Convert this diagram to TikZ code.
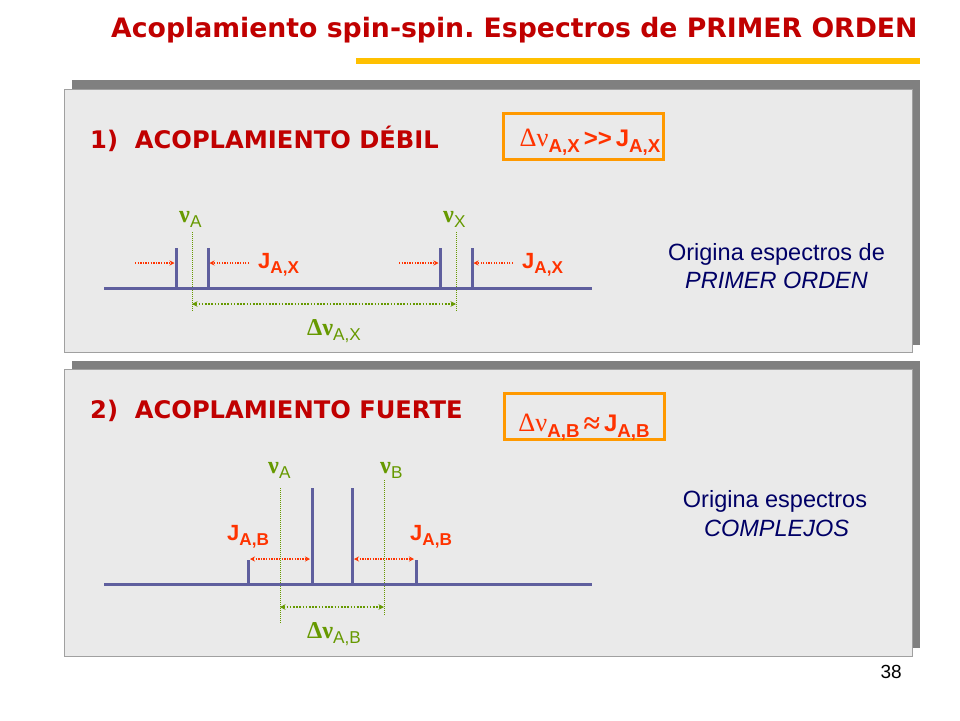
\documentclass[tikz,border=0pt]{standalone}
\usepackage{fontspec}
\setmainfont{Liberation Sans}
\newfontfamily\headfont{DejaVu Sans}
\newfontfamily\greekfont{Liberation Serif}
\usepackage{tikz}
\usetikzlibrary{shapes,arrows,arrows.meta,positioning}
\frenchspacing

\definecolor{titlered}{HTML}{C00000}
\definecolor{baryellow}{HTML}{FFC000}
\definecolor{boxorange}{HTML}{FF9900}
\definecolor{jred}{HTML}{FF3300}
\definecolor{nugreen}{HTML}{669900}
\definecolor{specblue}{HTML}{5F5F9E}
\definecolor{panelgray}{HTML}{EAEAEA}
\definecolor{shadowgray}{HTML}{808080}
\definecolor{edgegray}{HTML}{A0A0A0}
\definecolor{navytext}{HTML}{000066}

\newcommand{\lowidx}[1]{\raisebox{-0.25em}{\scalebox{0.78}{#1}}}
\newcommand{\gk}[1]{{\greekfont\scalebox{1.1}{#1}}}
\newcommand{\gkb}[1]{{\greekfont\bfseries\scalebox{1.1}{#1}}}

\tikzset{
	title/.style={anchor=base west, inner sep=0pt, text=titlered, font=\headfont\bfseries\fontsize{26.7}{30}\selectfont},
	head/.style={anchor=base west, inner sep=0pt, text=titlered, font=\headfont\bfseries\fontsize{24.2}{28}\selectfont},
	bar/.style={draw=baryellow, line width=6pt},
	panel/.style={fill=panelgray, draw=edgegray, line width=1pt},
	condbox/.style={draw=boxorange, line width=3pt, minimum width=160pt, minimum height=46pt, inner sep=0pt},
	relation/.style={anchor=base, inner sep=0pt, text=jred, font=\fontsize{24}{28}\selectfont},
	spec/.style={draw=specblue, line width=3pt},
	nulabel/.style={anchor=base west, inner sep=0pt, text=nugreen, font=\fontsize{22}{26}\selectfont},
	jlabel/.style={anchor=base west, inner sep=0pt, text=jred, font=\bfseries\fontsize{22}{26}\selectfont},
	guide/.style={draw=nugreen, line width=0.7pt, dash pattern=on 1pt off 1pt},
	jarrow/.style={draw=jred, line width=1.3pt, dash pattern=on 1.3pt off 1.3pt, -{Stealth[length=5pt,width=5pt]}},
	jboth/.style={draw=jred, line width=1.3pt, dash pattern=on 1.3pt off 1.3pt, {Stealth[length=5pt,width=5pt]}-{Stealth[length=5pt,width=5pt]}},
	dnuarrow/.style={draw=nugreen, line width=1.6pt, dash pattern=on 1.6pt off 1.6pt, {Stealth[length=5.5pt,width=5.5pt]}-{Stealth[length=5.5pt,width=5.5pt]}},
	comment/.style={anchor=base, inner sep=0pt, text=navytext, font=\fontsize{23.5}{28}\selectfont},
}

\begin{document}
\begin{tikzpicture}[x=1pt,y=-1pt]
	\useasboundingbox (0,0) rectangle (960,720);

	% title
	\node[title] (title) at (111,37) {Acoplamiento spin-spin. Espectros de PRIMER ORDEN};
	\coordinate (bar1) at (356,61);
	\coordinate (bar2) at (920,61);
	\draw[bar] (bar1) -- (bar2);

	% panels
	\fill[shadowgray] (72,80) rectangle (920,345);
	\path[panel] (64,89) rectangle (912,352);
	\fill[shadowgray] (72,361) rectangle (920,648);
	\path[panel] (64,369) rectangle (912,656);

	% 1) weak coupling
	\node[head] (head1) at (90,148) {1)\ \ ACOPLAMIENTO DÉBIL};
	\node[condbox] (cond1) at (583.5,136) {};
	\node[relation] (rel1) at (590,146.5) {\gk{Δν}\lowidx{\bfseries A,X}\,\textbf{>{}>}\,\textbf{J}\lowidx{\bfseries A,X}};

	\draw[guide] (192,232) -- (192,312);
	\draw[guide] (456,232) -- (456,312);
	\draw[spec] (104,288) -- (592,288);
	\foreach \px in {176,208,440,472}
		\draw[spec] (\px,248) -- (\px,288);

	\node[nulabel] (nuA1) at (179,222) {\gkb{ν}\lowidx{A}};
	\node[nulabel] (nuX1) at (443,222) {\gkb{ν}\lowidx{X}};
	\node[jlabel] (jax1) at (258,268) {J\lowidx{A,X}};
	\node[jlabel] (jax2) at (522,268) {J\lowidx{A,X}};
	\node[nulabel] (dnu1) at (307,335) {\gkb{Δν}\lowidx{A,X}};

	\coordinate (ja1) at (135,263);
	\coordinate (pa1) at (174.5,263);
	\coordinate (ja2) at (249,263);
	\coordinate (pa2) at (209.5,263);
	\coordinate (jx1) at (399,263);
	\coordinate (px1) at (438.5,263);
	\coordinate (jx2) at (513,263);
	\coordinate (px2) at (473.5,263);
	\coordinate (va1) at (192,304);
	\coordinate (vx1) at (456,304);
	\draw[jarrow] (ja1) -- (pa1);
	\draw[jarrow] (ja2) -- (pa2);
	\draw[jarrow] (jx1) -- (px1);
	\draw[jarrow] (jx2) -- (px2);
	\draw[dnuarrow] (va1) -- (vx1);

	\node[comment] (orig1) at (776.5,260.5) {Origina espectros de};
	\node[comment] (kind1) at (776.5,288) {\itshape PRIMER ORDEN};

	% 2) strong coupling
	\node[head] (head2) at (90,418) {2)\ \ ACOPLAMIENTO FUERTE};
	\node[condbox] (cond2) at (584,416) {};
	\node[relation] (rel2) at (584,431) {\gk{Δν}\lowidx{\bfseries A,B}\,\raisebox{-0.12em}{\greekfont\bfseries\scalebox{1.25}{≈}}\,\textbf{J}\lowidx{\bfseries A,B}};

	\draw[guide] (280,488) -- (280,623);
	\draw[guide] (384,480) -- (384,615);
	\draw[spec] (104,584) -- (592,584);
	\foreach \px in {248,416}
		\draw[spec] (\px,560) -- (\px,584);
	\foreach \px in {312,352}
		\draw[spec] (\px,488) -- (\px,584);

	\node[nulabel] (nuA2) at (268,473) {\gkb{ν}\lowidx{A}};
	\node[nulabel] (nuB2) at (380,473) {\gkb{ν}\lowidx{B}};
	\node[jlabel] (jab1) at (227,540) {J\lowidx{A,B}};
	\node[jlabel] (jab2) at (410,540) {J\lowidx{A,B}};
	\node[nulabel] (dnu2) at (307,638) {\gkb{Δν}\lowidx{A,B}};

	\coordinate (jb1) at (250,559);
	\coordinate (pb1) at (310,559);
	\coordinate (jb2) at (354,559);
	\coordinate (pb2) at (414,559);
	\coordinate (va2) at (280,607);
	\coordinate (vb2) at (384,607);
	\draw[jboth] (jb1) -- (pb1);
	\draw[jboth] (jb2) -- (pb2);
	\draw[dnuarrow] (va2) -- (vb2);

	\node[comment] (orig2) at (775,507) {Origina espectros};
	\node[comment] (kind2) at (776.5,536) {\itshape COMPLEJOS};

	\node[anchor=base east, inner sep=0pt, font=\fontsize{19}{22}\selectfont] (page) at (902,678) {38};
\end{tikzpicture}
\end{document}
